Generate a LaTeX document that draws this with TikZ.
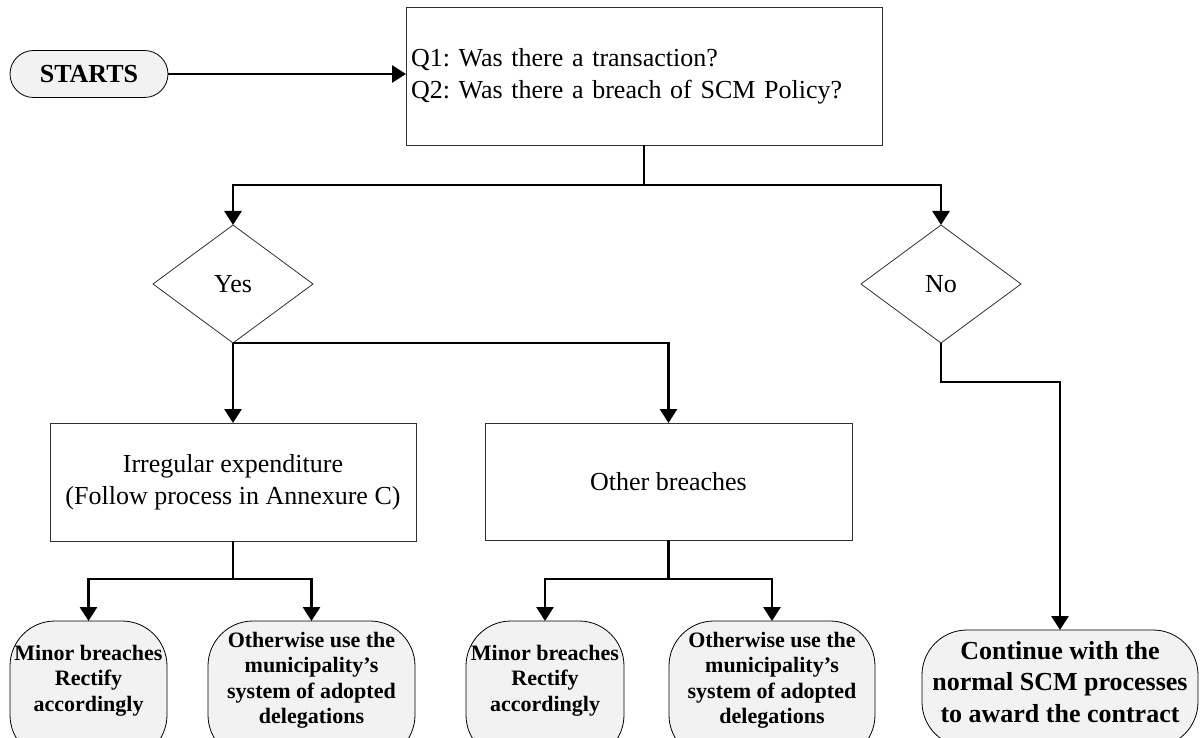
\documentclass[tikz,border=0pt]{standalone}
\usepackage{fontspec}
\setmainfont{Liberation Serif}
\usetikzlibrary{arrows.meta,positioning,shapes.geometric}
\definecolor{termFill}{HTML}{F2F2F2}
\definecolor{edgeGray}{HTML}{303030}
\frenchspacing

\begin{document}
\begin{tikzpicture}[x=1pt,y=-1pt,>={Triangle[length=14pt,width=17pt]},
		flow/.style={line width=2.8pt},
		box/.style={draw=edgeGray,line width=0.8pt,outer sep=0,inner sep=5pt,
			font=\fontsize{26}{32}\selectfont},
		choice/.style={draw=edgeGray,line width=0.8pt,diamond,aspect=1.36,inner sep=0,outer sep=0,
			minimum width=160pt,minimum height=118pt,font=\fontsize{26}{32}\selectfont},
		term/.style={draw=black,line width=0.8pt,fill=termFill,rounded corners=#1,outer sep=0,
			inner sep=0,align=center},
		bigterm/.style={term=45pt,text depth=14pt,font=\bfseries\fontsize{26}{31.5}\selectfont},
		smallterm/.style={term=45pt,minimum height=139pt,text depth=25pt,
			font=\bfseries\fontsize{22}{25.5}\selectfont}]
	
	\useasboundingbox (0,0) rectangle (1203,738);
	\clip (0,0) rectangle (1203,738);
	
	% start and questions
	\node[term=23.5pt,minimum width=158pt,minimum height=47pt,
		font=\bfseries\fontsize{26}{32}\selectfont] (start) at (89,74) {STARTS};
	\node[box,minimum width=476pt,minimum height=138pt,text width=466pt,align=left] (q) at (644,76) {
		Q1: Was there a transaction?\\ Q2: Was there a breach of SCM Policy?};
	
	% answers
	\node[choice] (yes) at (233,284) {Yes};
	\node[choice] (no) at (941,284) {No};
	
	\node[box,minimum width=366pt,minimum height=118pt,align=center] (irr) at (233,482) {
		Irregular expenditure\\ (Follow process in Annexure C)};
	\node[box,minimum width=367pt,minimum height=117pt] (other) at (668.5,481.5) {Other breaches};
	
	% outcomes
	\node[smallterm,minimum width=157pt] (minA) at (88.5,690.5) {Minor breaches\\ Rectify\\ accordingly};
	\node[smallterm,minimum width=207pt] (delA) at (311.5,690.5) {Otherwise use the\\ municipality's\\ system of adopted\\ delegations};
	\node[smallterm,minimum width=158pt] (minB) at (545,690.5) {Minor breaches\\ Rectify\\ accordingly};
	\node[smallterm,minimum width=206pt] (delB) at (772,690.5) {Otherwise use the\\ municipality's\\ system of adopted\\ delegations};
	\node[bigterm,minimum width=276pt,minimum height=117pt] (cont) at (1060,688.5) {Continue with the\\ normal SCM processes\\ to award the contract};
	
	\coordinate (qs) at (644,185);
	\coordinate (nb) at (941,382);
	\coordinate (is) at (233,579);
	\coordinate (os) at (668.5,579);
	
	\draw[flow,->] (start) -- (start -| q.west);
	\draw[flow] (q) -- (qs);
	\draw[flow,->] (qs) -| (yes);
	\draw[flow,->] (qs) -| (no);
	
	\draw[flow,->] (yes.south) -- (irr);
	\draw[flow,->] (yes.south) -| (other);
	\draw[flow,->] (no) -- (nb) -| (cont);
	
	\draw[flow] (irr) -- (is);
	\draw[flow,->] (is) -| (minA);
	\draw[flow,->] (is) -| (delA);
	\draw[flow] (other) -- (os);
	\draw[flow,->] (os) -| (minB);
	\draw[flow,->] (os) -| (delB);
\end{tikzpicture}
\end{document}
